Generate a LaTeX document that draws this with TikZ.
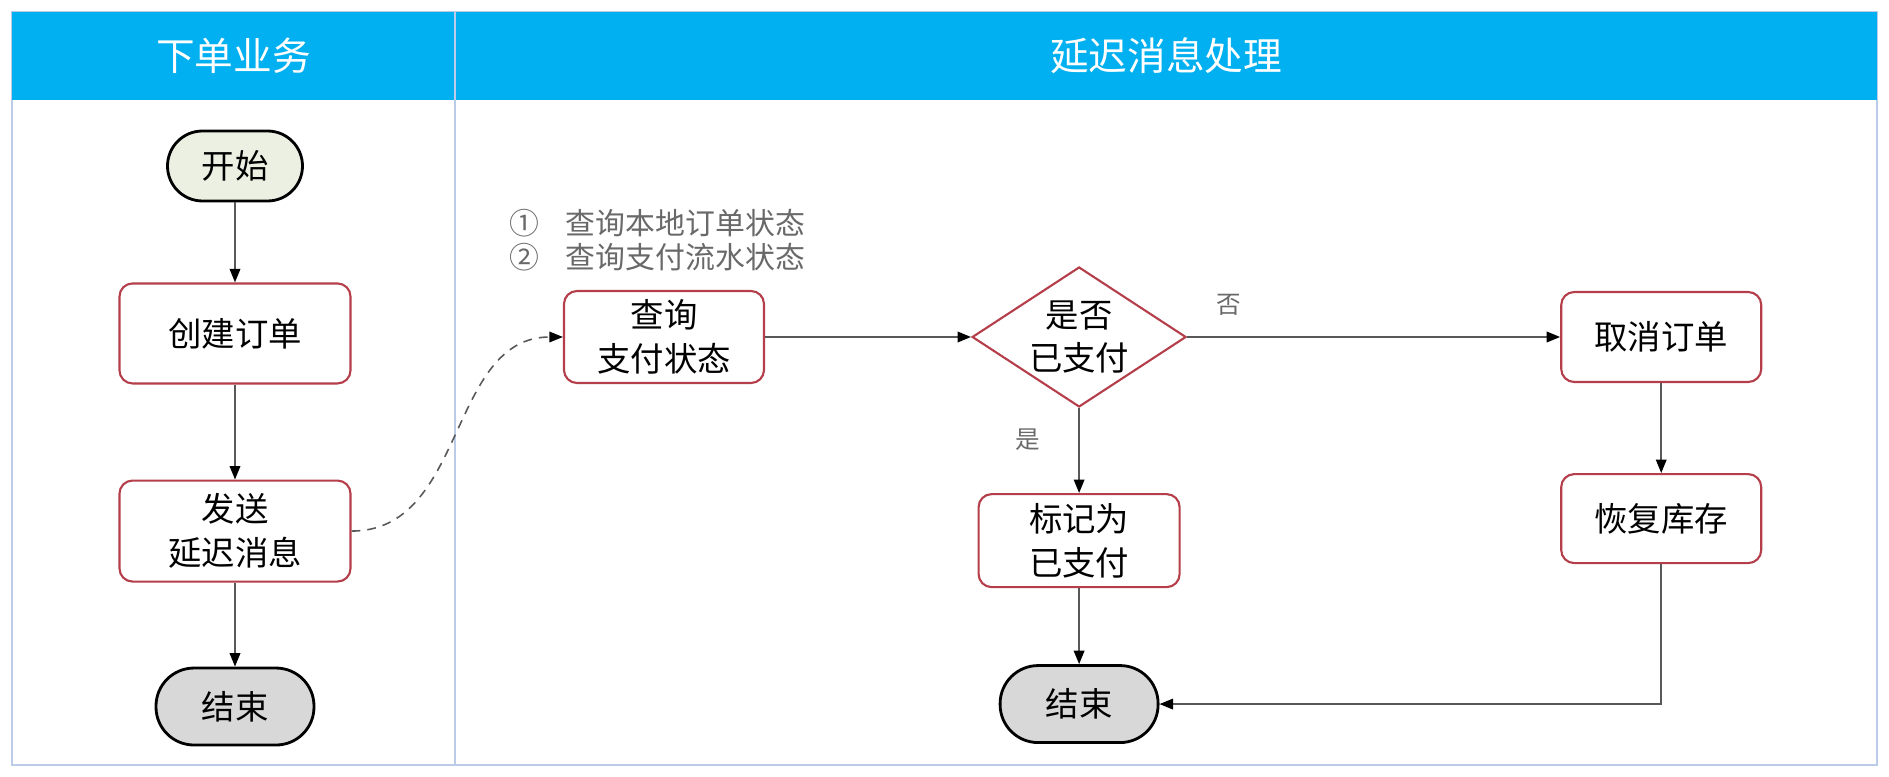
\documentclass[tikz,border=0pt]{standalone}
\usepackage{fontspec}
\setmainfont{Noto Sans CJK SC}
\usepackage{tikz}
\usetikzlibrary{positioning, arrows.meta, shapes.geometric}
\definecolor{lanehead}{RGB}{0,176,240}
\definecolor{laneline}{RGB}{188,204,232}
\definecolor{boxred}{RGB}{180,62,74}
\definecolor{flowgray}{RGB}{88,88,88}
\definecolor{notegray}{RGB}{105,105,105}
\definecolor{startbg}{RGB}{236,240,226}
\definecolor{endbg}{RGB}{216,216,216}
\tikzset{
  task/.style={
    rectangle, rounded corners=0.26cm, draw=boxred, line width=1.2pt, fill=white,
    minimum width=4cm, minimum height=1.84cm, align=center,
    font=\fontsize{19}{25}\selectfont
  },
  terminal/.style={
    rectangle, rounded corners=0.76cm, draw=black, line width=1.6pt,
    minimum width=3.16cm, minimum height=1.54cm, font=\fontsize{19}{25}\selectfont
  },
  decision/.style={
    diamond, aspect=1.53, draw=boxred, line width=1.2pt, fill=white, inner sep=0pt,
    minimum width=4.28cm, minimum height=2.8cm, align=center,
    font=\fontsize{19}{25}\selectfont
  },
  lane title/.style={
    fill=lanehead, text=white, outer sep=0pt, minimum height=1.76cm,
    font=\fontsize{22}{26}\selectfont
  },
  branch label/.style={text=notegray, font=\fontsize{14}{16}\selectfont},
  flow/.style={draw=flowgray, line width=1.1pt, ->},
  >={Triangle[length=0.27cm, width=0.21cm, color=black]},
  every edge/.style={flow},
}

\begin{document}
\begin{tikzpicture}
  \useasboundingbox (0,0) rectangle (37.78,-15.54);

  % swimlanes
  \draw[laneline, line width=1.5pt] (0.24,-0.24) rectangle (37.54,-15.3);
  \node[lane title, minimum width=8.86cm, anchor=north west] (HEAD1) at (0.24,-0.24) {下单业务};
  \node[lane title, minimum width=28.44cm, anchor=north west] (HEAD2) at (HEAD1.north east) {延迟消息处理};
  \draw[laneline, line width=1.5pt] (HEAD1.north east) -- (HEAD1.north east |- 0,-15.3);

  % order lane
  \node[terminal, fill=startbg, minimum width=2.7cm, minimum height=1.4cm, rounded corners=0.7cm] (START) at (4.7,-3.32) {开始};
  \node[task, minimum width=4.62cm, minimum height=2cm, below=1.6cm of START] (CREATE) {创建订单};
  \node[task, minimum width=4.62cm, minimum height=2.02cm, below=1.9cm of CREATE] (SEND) {发送\\延迟消息};
  \node[terminal, fill=endbg, below=1.68cm of SEND] (END1) {结束};

  % delayed message lane
  \node[task] (QUERY) at (13.28,-6.74) {查询\\支付状态};
  \node[decision, right=4.12cm of QUERY] (PAID) {是否\\已支付};
  \node[task, minimum height=1.8cm, right=7.46cm of PAID] (CANCEL) {取消订单};
  \node[task, minimum height=1.78cm, below=1.8cm of CANCEL] (RESTORE) {恢复库存};
  \node[task, minimum width=4.02cm, minimum height=1.86cm, below=1.7cm of PAID] (MARK) {标记为\\已支付};
  \node[terminal, fill=endbg, below=1.52cm of MARK] (END2) {结束};

  \node[text=notegray, anchor=west, align=left, font=\fontsize{17}{19.5}\selectfont] (NOTE) at (10.06,-4.8)
    {①\hspace{0.9em}查询本地订单状态\\②\hspace{0.9em}查询支付流水状态};
  \node[branch label] (NO) at (24.58,-6.1) {否};
  \node[branch label] (YES) at (20.56,-8.8) {是};

  \path (START) edge (CREATE)
        (CREATE) edge (SEND)
        (SEND) edge (END1)
        (QUERY) edge (PAID)
        (PAID) edge (CANCEL)
        (PAID) edge (MARK)
        (MARK) edge (END2)
        (CANCEL) edge (RESTORE);
  \draw[flow] (RESTORE.south) |- (END2.east);
  \draw[flow, line width=0.9pt, dash pattern=on 5pt off 4pt] (SEND.east) .. controls +(2.3,0) and +(-2.3,0) .. (QUERY.west);
\end{tikzpicture}
\end{document}
